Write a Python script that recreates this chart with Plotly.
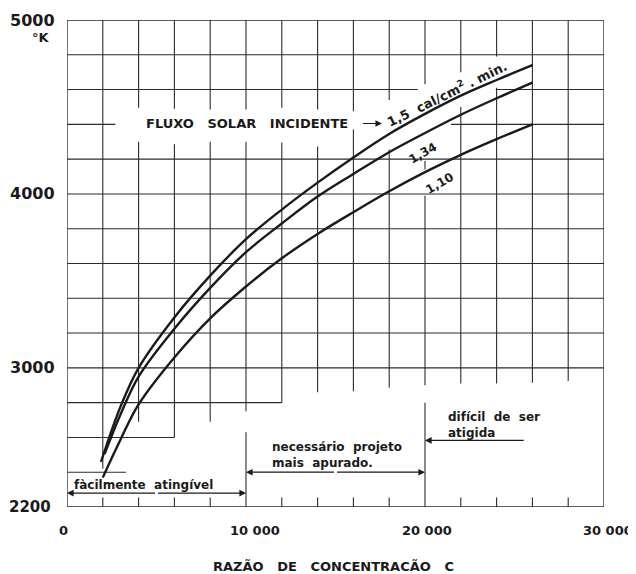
import plotly.graph_objects as go

# ---------------- data ----------------
conc_15 = [1900, 3000, 4000, 6000, 8000, 10000, 12000, 14000, 16000, 18000, 20000, 22000, 24000, 26000]
temp_15 = [2460, 2780, 3000, 3290, 3530, 3740, 3910, 4065, 4210, 4345, 4460, 4565, 4655, 4740]

conc_134 = [2100, 3000, 4000, 6000, 8000, 10000, 12000, 14000, 16000, 18000, 20000, 22000, 24000, 26000]
temp_134 = [2505, 2735, 2950, 3225, 3460, 3665, 3830, 3985, 4115, 4240, 4350, 4455, 4550, 4640]

conc_110 = [2000, 3000, 4000, 6000, 8000, 10000, 12000, 14000, 16000, 18000, 20000, 22000, 24000, 26000]
temp_110 = [2370, 2590, 2790, 3060, 3285, 3468, 3630, 3770, 3895, 4015, 4125, 4225, 4315, 4400]

x_tick_vals = [0, 10000, 20000, 30000]
x_tick_text = ["0", "10 000", "20 000", "30 000"]
y_tick_vals = [5000, 4000, 3000, 2200]
y_tick_text = ["5000", "4000", "3000", "2200"]

x_grid = list(range(2000, 30000, 2000))
y_grid = list(range(2400, 5000, 200))

X_MIN, X_MAX, Y_MIN, Y_MAX = 0, 30000, 2200, 5000

# ---------------- grid structure ----------------
vert_bottom = {2000: 2420, 4000: 2690, 6000: 2600, 8000: 2690, 10000: 2750, 12000: 2800,
               14000: 2860, 16000: 2865, 18000: 2885, 20000: 2900, 22000: 2910,
               24000: 2910, 26000: 2915, 28000: 2925}
vert_gaps = {4000: [(4300, 4495)], 6000: [(4285, 4490)], 8000: [(4300, 4485)],
             10000: [(4300, 4485)], 12000: [(4295, 4495)], 14000: [(4272, 4485)],
             16000: [(4370, 4475)], 18000: [(4255, 4540)],
             20000: [(4190, 4630), (3990, 4140)], 22000: [(4500, 4700)], 24000: [(4610, 4790)]}
horiz_segments = {4600: [(0, 19600), (23950, 30000)], 4400: [(0, 2700), (21450, 30000)],
                  2800: [(0, 12000)], 2600: [(0, 6000)], 2400: [(0, 3300)]}
separators = {10000: 2630, 20000: 2800}
tick_top = 2255

gx, gy = [], []


def seg(x0, y0, x1, y1):
    gx.extend([x0, x1, None])
    gy.extend([y0, y1, None])


for xv in x_grid:
    lo = vert_bottom[xv]
    pieces = [(lo, Y_MAX)]
    for g0, g1 in vert_gaps.get(xv, []):
        new = []
        for a, b in pieces:
            if g1 <= a or g0 >= b:
                new.append((a, b))
            else:
                if g0 > a:
                    new.append((a, g0))
                if g1 < b:
                    new.append((g1, b))
        pieces = new
    for a, b in pieces:
        seg(xv, a, xv, b)
    if xv in separators:
        seg(xv, Y_MIN, xv, separators[xv])
    else:
        seg(xv, Y_MIN, xv, tick_top)

for yv in y_grid:
    for a, b in horiz_segments.get(yv, [(X_MIN, X_MAX)]):
        seg(a, yv, b, yv)

INK = "#1a1a1a"
GRID = "#2b2b2b"
FONT = "DejaVu Sans"

fig = go.Figure()
fig.add_trace(go.Scatter(x=gx, y=gy, mode="lines", line=dict(color=GRID, width=1.1),
                         hoverinfo="skip", showlegend=False))

for cx, cy, nm in [(conc_15, temp_15, "1,5"), (conc_134, temp_134, "1,34"), (conc_110, temp_110, "1,10")]:
    fig.add_trace(go.Scatter(x=cx, y=cy, mode="lines", name=nm,
                             line=dict(color=INK, width=2.4, shape="spline", smoothing=1.0),
                             showlegend=False))

# border
fig.add_shape(type="rect", xref="x", yref="y", x0=X_MIN, x1=X_MAX, y0=Y_MIN, y1=Y_MAX,
              line=dict(color=GRID, width=1.3))

ann = []


def txt(x, y, s, size=12, xanchor="center", yanchor="middle", xshift=0, yshift=0, angle=0, align="left"):
    ann.append(dict(x=x, y=y, xref="x", yref="y", text=s, showarrow=False,
                    xanchor=xanchor, yanchor=yanchor, xshift=xshift, yshift=yshift,
                    textangle=angle, align=align,
                    font=dict(family=FONT, size=size, color=INK, weight="bold")))


SP = "&nbsp;"

# y tick labels
y_style = {5000: (16, -10), 4000: (16, -10), 3000: (16, -10), 2200: (15, -14)}
for v, t in zip(y_tick_vals, y_tick_text):
    size, dx = y_style[v]
    txt(X_MIN, v, t, size=size, xanchor="right", xshift=dx)
txt(X_MIN, Y_MAX, "°K", size=13, xanchor="right", xshift=-15, yshift=-17)

# x tick labels
x_shifts = {0: -4, 10000: 9, 20000: 2, 30000: 4}
for v, t in zip(x_tick_vals, x_tick_text):
    txt(v, Y_MIN, t, size=13, yanchor="middle", xshift=x_shifts[v], yshift=-23)

# x title
ann.append(dict(x=0.5, y=0, xref="paper", yref="paper", yanchor="middle", xanchor="center",
                yshift=-59, xshift=-2, showarrow=False,
                text="RAZÃO" + SP * 3 + "DE" + SP * 3 + "CONCENTRACÃO" + SP * 3 + "C",
                font=dict(family=FONT, size=13, color=INK, weight="bold")))

# curve labels
txt(10050, 4405, "FLUXO" + SP * 3 + "SOLAR" + SP * 3 + "INCIDENTE", size=13)
txt(21250, 4580, "1,5" + SP * 2 + "cal/cm<sup>2</sup>" + SP + "." + SP + "min.", size=13, angle=-26)
txt(19900, 4235, "1,34", size=12, angle=-30)
txt(20850, 4060, "1,10", size=12, angle=-30)

# lower annotations
txt(280, 2326, "fàcilmente" + SP * 2 + "atingível", size=12, xanchor="left")
txt(11350, 2500, "necessário" + SP * 2 + "projeto<br>mais" + SP * 2 + "apurado.", size=12, xanchor="left")
txt(21180, 2674, "difícil" + SP * 2 + "de" + SP * 2 + "ser<br>atigida", size=12, xanchor="left")


def arrow(x_tip, y, x_tail, head=True):
    ann.append(dict(x=x_tip, y=y, ax=x_tail, ay=y, xref="x", yref="y", axref="x", ayref="y",
                    text="", showarrow=True, arrowhead=2 if head else 0, arrowsize=1.1,
                    arrowwidth=1.2, arrowcolor=INK, standoff=0, startstandoff=0))


arrow(X_MIN, 2280, 5000)
arrow(10000, 2280, 5000)
arrow(10000, 2400, 15000)
arrow(20000, 2400, 15000)
arrow(20000, 2583, 25600)
# small arrow after FLUXO SOLAR INCIDENTE
arrow(17600, 4405, 16450)

# the page body has an 8px margin: place the plot area so that it lands where the reference has it
fig.update_layout(
    width=636, height=574,
    margin=dict(l=59, r=40, t=12, b=75),
    paper_bgcolor="white", plot_bgcolor="white",
    xaxis=dict(range=[X_MIN, X_MAX], showgrid=False, zeroline=False, showticklabels=False,
               showline=False, ticks=""),
    yaxis=dict(range=[Y_MIN, Y_MAX], showgrid=False, zeroline=False, showticklabels=False,
               showline=False, ticks=""),
    annotations=ann,
    showlegend=False,
)

fig.write_html("out.html")
